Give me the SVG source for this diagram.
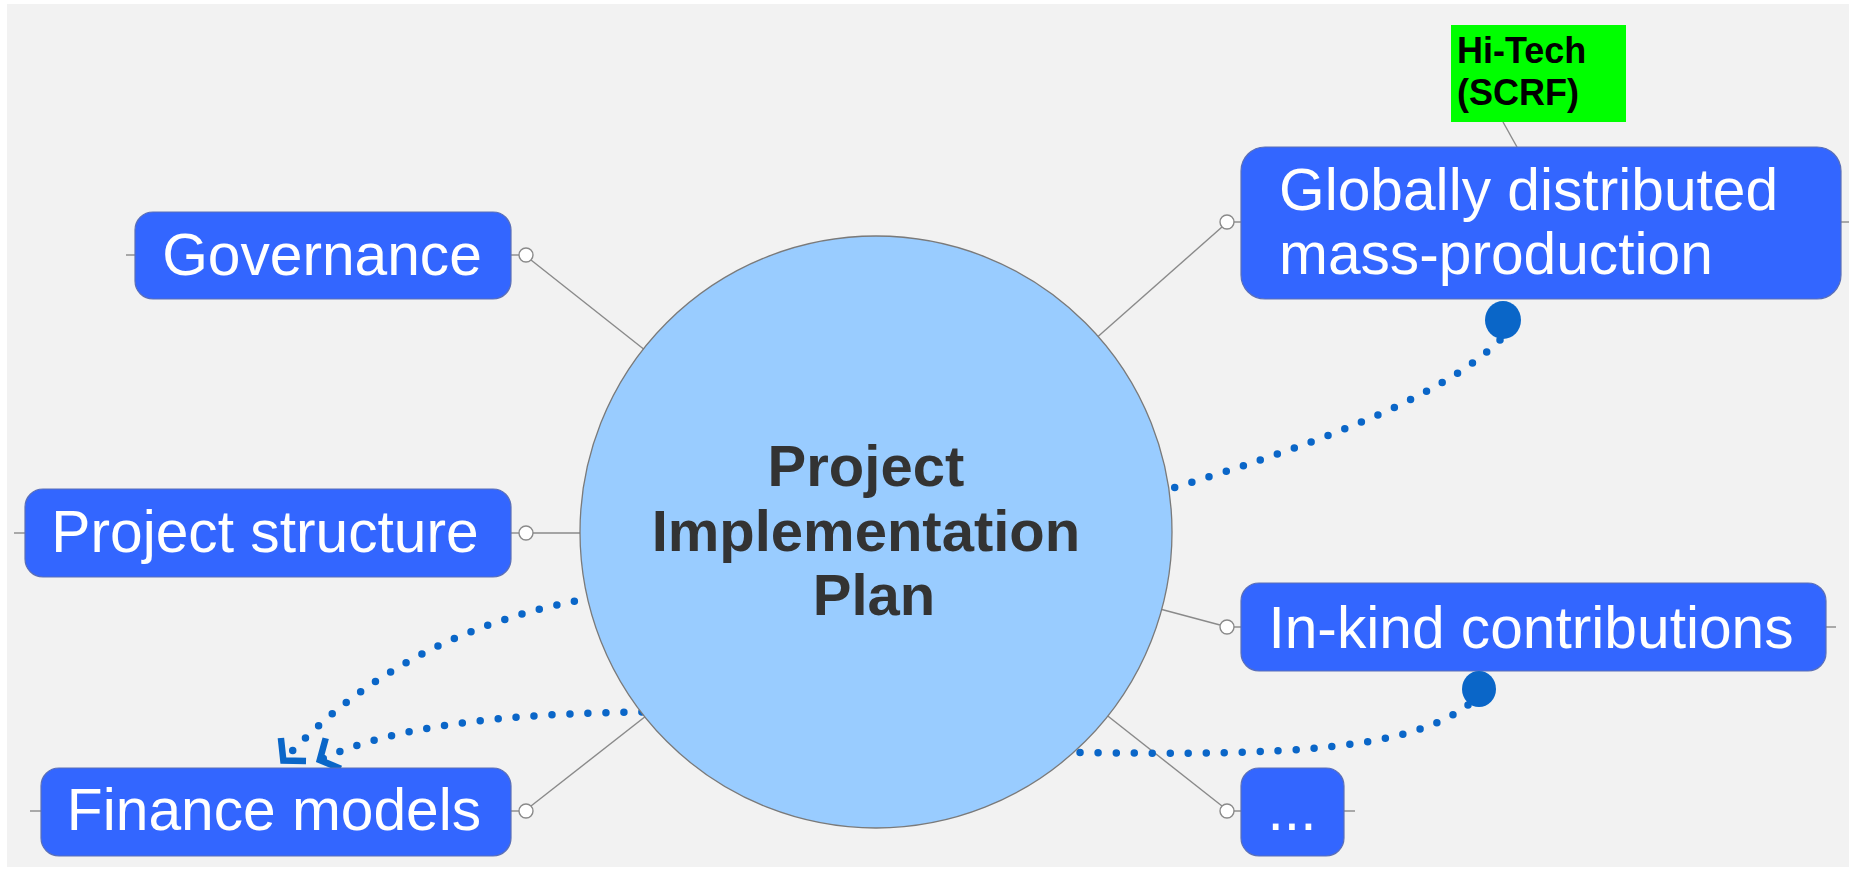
<svg xmlns="http://www.w3.org/2000/svg" width="1849" height="871" viewBox="0 0 1849 871">
<defs>
<style>
.box{fill:#3366ff;stroke:#5a6fb8;stroke-width:1.2}
.lbl{font-family:"Liberation Sans",Arial,sans-serif;font-size:58.7px;fill:#ffffff}
.ln{stroke:#8a8a8a;stroke-width:1.4;fill:none}
.knob{fill:#ffffff;stroke:#8a8a8a;stroke-width:1.4}
.dot{fill:none;stroke:#0a66c8;stroke-width:7.5;stroke-linecap:round;stroke-dasharray:0 18}
.big{fill:#0a66c8}
</style>
<marker id="arr" viewBox="-30 -24 34 48" markerWidth="34" markerHeight="48" refX="0" refY="0" orient="auto" markerUnits="userSpaceOnUse">
<path d="M-17,-17 L-2,0 L-17,17" fill="none" stroke="#0a66c8" stroke-width="6.5" stroke-linejoin="miter" stroke-linecap="butt"/>
</marker>
</defs>
<rect x="0" y="0" width="1849" height="871" fill="#ffffff"/>
<rect x="7" y="4" width="1842" height="863" fill="#f2f2f2"/>
<g id="connectors">
<line class="ln" x1="126" y1="255" x2="135" y2="255"/>
<line class="ln" x1="511" y1="255" x2="519" y2="255"/>
<line class="ln" x1="531" y1="260" x2="660" y2="362"/>
<line class="ln" x1="14" y1="533" x2="25" y2="533"/>
<line class="ln" x1="511" y1="533" x2="519" y2="533"/>
<line class="ln" x1="533" y1="533" x2="600" y2="533"/>
<line class="ln" x1="30" y1="811" x2="41" y2="811"/>
<line class="ln" x1="511" y1="811" x2="519" y2="811"/>
<line class="ln" x1="531" y1="806" x2="660" y2="705"/>
<line class="ln" x1="1222" y1="227" x2="1085" y2="348"/>
<line class="ln" x1="1234" y1="222" x2="1241" y2="222"/>
<line class="ln" x1="1841" y1="222" x2="1849" y2="222"/>
<line class="ln" x1="1220" y1="625" x2="1145" y2="605"/>
<line class="ln" x1="1234" y1="627" x2="1241" y2="627"/>
<line class="ln" x1="1826" y1="627" x2="1836" y2="627"/>
<line class="ln" x1="1222" y1="806" x2="1090" y2="702"/>
<line class="ln" x1="1234" y1="811" x2="1241" y2="811"/>
<line class="ln" x1="1344" y1="811" x2="1355" y2="811"/>
<line class="ln" x1="1503" y1="122" x2="1517" y2="147"/>
<circle class="knob" cx="526" cy="255" r="7"/>
<circle class="knob" cx="526" cy="533" r="7"/>
<circle class="knob" cx="526" cy="811" r="7"/>
<circle class="knob" cx="1227" cy="222" r="7"/>
<circle class="knob" cx="1227" cy="627" r="7"/>
<circle class="knob" cx="1227" cy="811" r="7"/>
<path class="dot" d="M1500,340 C1440,400 1300,450 1150,495"/>
<path class="dot" d="M1468,705 C1410,748 1300,757 1060,752"/>
<path class="dot" d="M610,595 Q407,625 282,762" marker-end="url(#arr)"/>
<path class="dot" d="M660,712 Q417,712 318,761" marker-end="url(#arr)"/>
</g>
<g id="center">
<circle cx="876" cy="532" r="296" fill="#99ccff" stroke="#7a7a7a" stroke-width="1.3"/>
<text font-family="Liberation Sans,Arial,sans-serif" font-size="58" font-weight="bold" fill="#333333" text-anchor="middle">
<tspan x="874" y="486">Project</tspan>
<tspan x="874" y="551">Implementation</tspan>
<tspan x="874" y="615">Plan</tspan>
</text>
</g>
<g id="governance">
<rect class="box" x="135" y="212" width="376" height="87" rx="18"/>
<text class="lbl" x="322" y="275" text-anchor="middle">Governance</text>
</g>
<g id="project-structure">
<rect class="box" x="25" y="489" width="486" height="88" rx="18"/>
<text class="lbl" x="265" y="552" text-anchor="middle">Project structure</text>
</g>
<g id="finance-models">
<rect class="box" x="41" y="768" width="470" height="88" rx="18"/>
<text class="lbl" x="274" y="830" text-anchor="middle">Finance models</text>
</g>
<g id="globally">
<rect class="box" x="1241" y="147" width="600" height="152" rx="24"/>
<text class="lbl" x="1279" y="210">Globally distributed</text>
<text class="lbl" x="1279" y="274">mass-production</text>
</g>
<g id="in-kind">
<rect class="box" x="1241" y="583" width="585" height="88" rx="18"/>
<text class="lbl" x="1531" y="648" text-anchor="middle">In-kind contributions</text>
</g>
<g id="more">
<rect class="box" x="1241" y="768" width="103" height="88" rx="18"/>
<text class="lbl" x="1292" y="830" text-anchor="middle">...</text>
</g>
<g id="hitech">
<rect x="1451" y="25" width="175" height="97" fill="#00ff00"/>
<text font-family="Liberation Sans,Arial,sans-serif" font-size="36" font-weight="bold" fill="#000000">
<tspan x="1457" y="63">Hi-Tech</tspan>
<tspan x="1457" y="105">(SCRF)</tspan>
</text>
</g>
<g id="markers">
<ellipse class="big" cx="1503" cy="320" rx="18" ry="19"/>
<ellipse class="big" cx="1479" cy="689" rx="17" ry="18"/>
</g>
</svg>
